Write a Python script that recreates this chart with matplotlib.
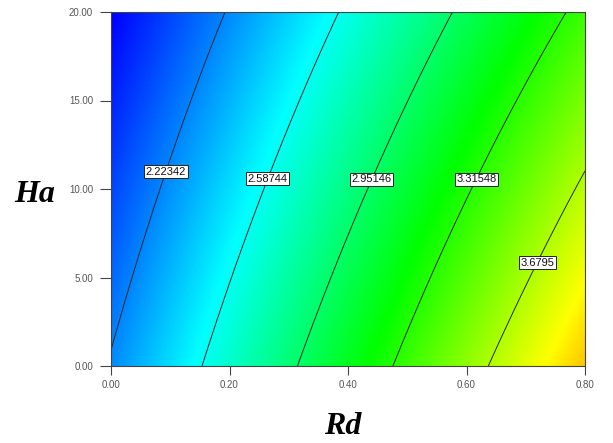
import numpy as np
import matplotlib
matplotlib.use("Agg")
import matplotlib.pyplot as plt
from matplotlib.colors import LinearSegmentedColormap

# ---- data -------------------------------------------------------------
rd_range = [0.0, 0.8]
ha_range = [0.0, 20.0]

# quadratic response-surface model  y = b0 + b1*Rd + b2*Ha + b12*Rd*Ha + b22*Ha^2
b0 = 2.2403
b_rd = 2.26
b_ha = -0.01868
b_rd_ha = -0.0182
b_ha2 = -2.0e-5

contour_levels = [2.22342, 2.58744, 2.95146, 3.31548, 3.6795]

# colour scale of the response (blue -> cyan -> green -> yellow -> red)
color_stops = [1.86, 2.55, 3.22, 3.90, 4.57]
color_names = ["#0000ff", "#00ffff", "#00ff00", "#ffff00", "#ff0000"]

xticks = [0.0, 0.2, 0.4, 0.6, 0.8]
yticks = [0.0, 5.0, 10.0, 15.0, 20.0]

# where the contour labels sit (Rd, Ha)
label_anchor = [(0.090, 11.0), (0.262, 10.6), (0.437, 10.6), (0.614, 10.6), (0.716, 5.9)]

# ---- surface ----------------------------------------------------------
rd = np.linspace(rd_range[0], rd_range[1], 300)
ha = np.linspace(ha_range[0], ha_range[1], 300)
RD, HA = np.meshgrid(rd, ha)
Z = b0 + b_rd * RD + b_ha * HA + b_rd_ha * RD * HA + b_ha2 * HA ** 2

lo, hi = color_stops[0], color_stops[-1]
cmap = LinearSegmentedColormap.from_list(
    "dx", [((s - lo) / (hi - lo), c) for s, c in zip(color_stops, color_names)])

# ---- figure -----------------------------------------------------------
W, H = 613, 443
fig = plt.figure(figsize=(W / 100, H / 100), dpi=100)
ax = fig.add_axes([111 / W, 77 / H, 474 / W, 354 / H])

ax.imshow(Z, extent=[rd_range[0], rd_range[1], ha_range[0], ha_range[1]],
          origin="lower", aspect="auto", cmap=cmap, vmin=lo, vmax=hi,
          interpolation="bilinear")
cs = ax.contour(RD, HA, Z, levels=contour_levels, colors="#262626", linewidths=0.7)
ax.set_xlim(*rd_range)
ax.set_ylim(*ha_range)

labels = ax.clabel(cs, contour_levels, inline=False, fmt=lambda v: f"{v:g}",
                   manual=label_anchor, fontsize=8, colors="#111111")
for t in labels:
    t.set_rotation(0)
    t.set_fontfamily("Liberation Sans")
    t.set_bbox(dict(boxstyle="square,pad=0.14", fc="white", ec="#222222", lw=0.7))
    t.set_zorder(5)

ax.set_xticks(xticks)
ax.set_yticks(yticks)
ax.set_xticklabels([f"{v:.2f}" for v in xticks])
ax.set_yticklabels([f"{v:.2f}" for v in yticks])
for lab in ax.get_xticklabels() + ax.get_yticklabels():
    lab.set_fontfamily("Liberation Sans")
ax.tick_params(axis="x", direction="out", length=6.5, width=0.8, color="#444444",
               labelsize=7, labelcolor="#555555", pad=3.6)
ax.tick_params(axis="y", direction="out", length=8, width=0.8, color="#444444",
               labelsize=7, labelcolor="#555555", pad=5)
for sp in ax.spines.values():
    sp.set_color("#444444")
    sp.set_linewidth(0.8)

fig.text(35 / W, 1 - 202 / H, "Ha", fontfamily="Liberation Serif", fontweight="bold",
         style="italic", fontsize=23, ha="center", va="baseline")
fig.text(343 / W, 1 - 434 / H, "Rd", fontfamily="Liberation Serif", fontweight="bold",
         style="italic", fontsize=23, ha="center", va="baseline")

fig.savefig("out.png", dpi=100)
